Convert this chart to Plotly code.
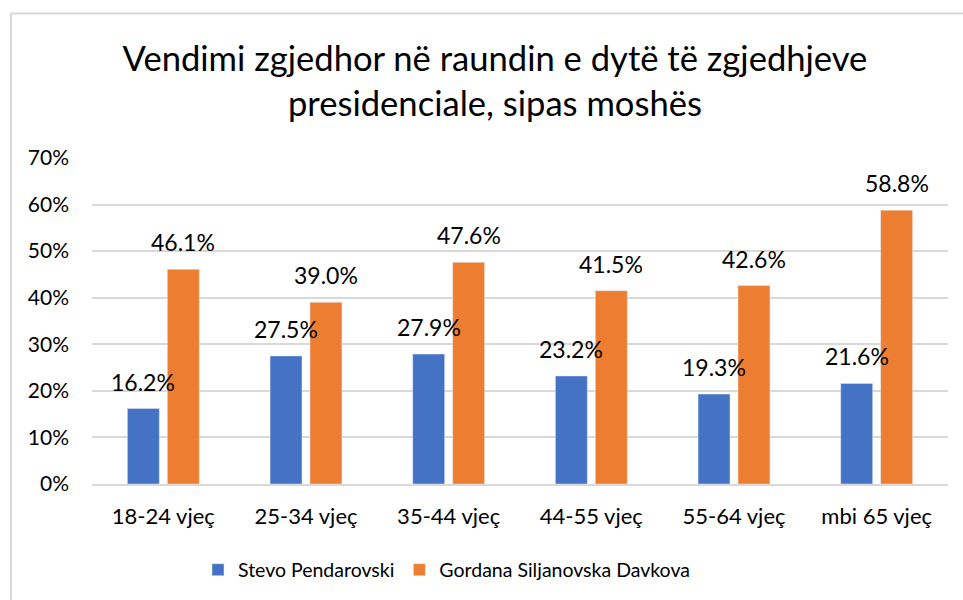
import plotly.graph_objects as go

categories = ["18-24 vjeç", "25-34 vjeç", "35-44 vjeç", "44-55 vjeç", "55-64 vjeç", "mbi 65 vjeç"]
pendarovski = [16.2, 27.5, 27.9, 23.2, 19.3, 21.6]
siljanovska = [46.1, 39.0, 47.6, 41.5, 42.6, 58.8]
series_names = ["Stevo Pendarovski", "Gordana Siljanovska Davkova"]
y_ticks = [0, 10, 20, 30, 40, 50, 60, 70]
y_tick_labels = [f"{v}%" for v in y_ticks]

BLUE = "#4472C4"
ORANGE = "#ED7D31"
FONT = "Lato"
W, H = 963, 600
ML, MR, MT, MB = 92, 15, 158, 115

fig = go.Figure()
fig.add_trace(go.Bar(x=categories, y=pendarovski, name=series_names[0], marker_color=BLUE))
fig.add_trace(go.Bar(x=categories, y=siljanovska, name=series_names[1], marker_color=ORANGE))

for vals, shift in ((pendarovski, -20), (siljanovska, 20)):
    for c, v in zip(categories, vals):
        fig.add_annotation(x=c, y=v, text=f"{v:.1f}%", showarrow=False, xshift=shift,
                           yanchor="bottom", yshift=11,
                           font=dict(family=FONT, size=23, color="#000000"))

pw = W - ML - MR
ph = H - MT - MB
fig.add_shape(type="rect", xref="paper", yref="paper",
              x0=(11 - ML) / pw, x1=(W + 20 - ML) / pw,
              y0=(H - MB - (H + 20)) / ph, y1=(H - MB - 13) / ph,
              line=dict(color="#d9d9d9", width=2), fillcolor="rgba(0,0,0,0)", layer="below")

fig.update_layout(
    width=W, height=H,
    margin=dict(l=ML, r=MR, t=MT, b=MB),
    paper_bgcolor="white", plot_bgcolor="white",
    barmode="group", bargap=0.44, bargroupgap=0.2,
    title=dict(text="Vendimi zgjedhor në raundin e dytë të zgjedhjeve<br>presidenciale, sipas moshës",
               x=0.514, xanchor="center", y=1 - 71 / H, yanchor="top", yref="container",
               font=dict(family=FONT, size=34.6, color="#000000")),
    font=dict(family=FONT, size=20, color="#000000"),
    showlegend=True,
    legend=dict(orientation="h", x=(198 - ML) / pw, xanchor="left", y=-(570 - (H - MB)) / ph,
                yanchor="middle", font=dict(family=FONT, size=19.5, color="#000000")),
    xaxis=dict(showline=True, linecolor="#d9d9d9", linewidth=2, ticks="", ticklabelstandoff=12,
               tickfont=dict(family=FONT, size=22, color="#000000")),
    yaxis=dict(range=[0, 70], tickvals=y_ticks, ticktext=y_tick_labels, showgrid=True,
               gridcolor="#d9d9d9", gridwidth=2, zeroline=False, ticks="", ticklabelstandoff=22,
               tickfont=dict(family=FONT, size=21, color="#000000")),
)

fig.write_html("out.html", config={"displayModeBar": False},
               post_script="document.body.style.margin='0';")
